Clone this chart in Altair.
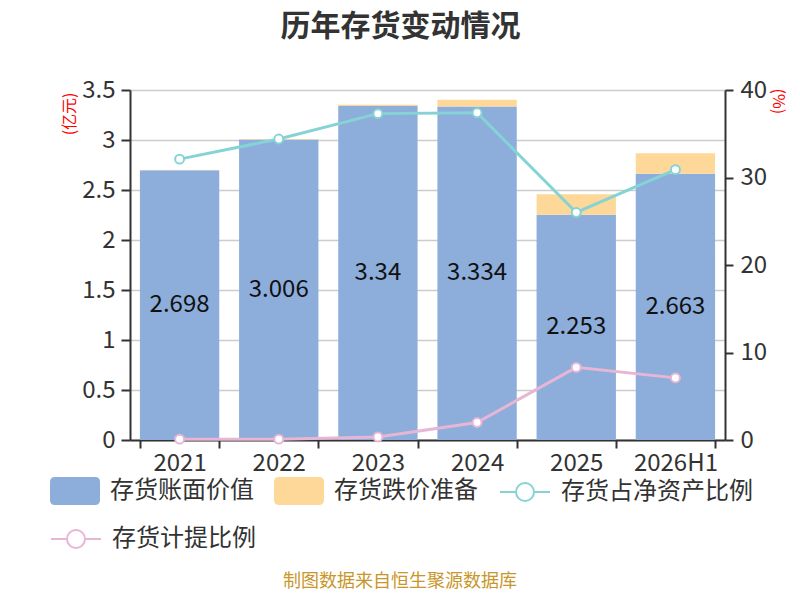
import altair as alt
import pandas as pd

# ---- data ----
years = ["2021", "2022", "2023", "2024", "2025", "2026H1"]
book_value = [2.698, 3.006, 3.34, 3.334, 2.253, 2.663]          # 存货账面价值 (亿元)
impairment = [0.003, 0.003, 0.012, 0.069, 0.204, 0.204]         # 存货跌价准备 (亿元)
inv_to_net_assets = [32.1, 34.4, 37.3, 37.4, 26.0, 30.9]        # 存货占净资产比例 (%)
provision_ratio = [0.1, 0.1, 0.35, 2.0, 8.3, 7.1]               # 存货计提比例 (%)

bar_series = ["存货账面价值", "存货跌价准备"]
line_series = ["存货占净资产比例", "存货计提比例"]
left_ticks = [0, 0.5, 1, 1.5, 2, 2.5, 3, 3.5]
right_ticks = [0, 10, 20, 30, 40]

title_text = "历年存货变动情况"
footer_text = "制图数据来自恒生聚源数据库"

# ---- styles ----
BLUE = "#8daddb"
ORANGE = "#fed898"
TEAL = "#86d3d6"
PINK = "#e7b6d5"
TXT = "#333333"
FONT = "Noto Sans CJK SC"

RECT_PATH = ("M-0.8,-0.56 L0.8,-0.56 Q1,-0.56 1,-0.36 L1,0.36 Q1,0.56 0.8,0.56 "
             "L-0.8,0.56 Q-1,0.56 -1,0.36 L-1,-0.36 Q-1,-0.56 -0.8,-0.56 Z")
LINE_PATH = ("M-1,0 L-0.36,0 M0.36,0 L1,0 M-0.36,0 A0.36,0.36 0 1,1 0.36,0 "
             "A0.36,0.36 0 1,1 -0.36,0 Z")

# ---- tables ----
bar_rows = []
for i, yr in enumerate(years):
    bar_rows.append({"year": yr, "series": bar_series[0], "value": book_value[i], "stack_order": 0})
    bar_rows.append({"year": yr, "series": bar_series[1], "value": impairment[i], "stack_order": 1})
bars_df = pd.DataFrame(bar_rows)
labels_df = pd.DataFrame({"year": years, "book": book_value,
                          "label": [str(v) for v in book_value]})
teal_df = pd.DataFrame({"year": years, "value": inv_to_net_assets, "series": line_series[0]})
pink_df = pd.DataFrame({"year": years, "value": provision_ratio, "series": line_series[1]})

# ---- encodings ----
x_enc = alt.X(
    "year:N", sort=years,
    scale=alt.Scale(domain=years, paddingInner=0.2, paddingOuter=0.1),
    axis=alt.Axis(title=None, labelAngle=0, tickBand="extent", labelFontSize=24,
                  labelColor=TXT, tickSize=8, tickColor=TXT, tickWidth=2,
                  domainColor=TXT, domainWidth=2, labelPadding=3, grid=False),
)
left_scale = alt.Scale(domain=[0, 3.5], nice=False, zero=True)
left_axis = alt.Axis(values=left_ticks, format="~g", title="(亿元)", titleColor="red",
                     titleFontSize=16, titleFontWeight="normal", titleAngle=270,
                     titleX=-61, titleY=2, titleAlign="right", titleBaseline="middle",
                     labelFontSize=24, labelColor=TXT, tickSize=9, tickColor=TXT,
                     tickWidth=2, domainColor=TXT, domainWidth=2, labelPadding=6,
                     grid=True, gridColor="#cccccc", gridWidth=1.5)
right_scale = alt.Scale(domain=[0, 40], nice=False, zero=True)
right_axis = alt.Axis(orient="right", values=right_ticks, title="(%)", titleColor="red",
                      titleFontSize=16, titleFontWeight="normal", titleAngle=90,
                      titleX=52, titleY=-2, titleAlign="left", titleBaseline="middle",
                      labelFontSize=24, labelColor=TXT, tickSize=8, tickColor=TXT,
                      tickWidth=2, domainColor=TXT, domainWidth=2, labelPadding=7,
                      grid=False)

legend_common = dict(title=None, orient="none", direction="horizontal",
                     symbolSize=2500, labelFontSize=24, labelColor=TXT,
                     labelOffset=10, padding=0, labelFont=FONT, labelLimit=0)

bars = alt.Chart(bars_df).mark_bar().encode(
    x=x_enc,
    y=alt.Y("value:Q", stack="zero", scale=left_scale, axis=left_axis),
    fill=alt.Fill("series:N", sort=bar_series,
                  scale=alt.Scale(domain=bar_series, range=[BLUE, ORANGE]),
                  legend=alt.Legend(legendX=-80, legendY=376, columns=2,
                                    columnPadding=20, symbolType=RECT_PATH,
                                    symbolStrokeWidth=0, **legend_common)),
    order=alt.Order("stack_order:Q", sort="ascending"),
)

texts = alt.Chart(labels_df).transform_calculate(mid="datum.book / 2").mark_text(
    fontSize=24, color="#111111", baseline="middle", align="center"
).encode(
    x=x_enc,
    y=alt.Y("mid:Q", scale=left_scale, axis=left_axis),
    text="label:N",
)

teal = alt.Chart(teal_df).mark_line(
    strokeWidth=3,
    point=alt.OverlayMarkDef(filled=True, fill="white", size=80, strokeWidth=2),
).encode(
    x=x_enc,
    y=alt.Y("value:Q", scale=right_scale, axis=right_axis),
    stroke=alt.Stroke("series:N",
                      scale=alt.Scale(domain=[line_series[0]], range=[TEAL]),
                      legend=alt.Legend(legendX=369, legendY=376, symbolType=LINE_PATH,
                                        symbolStrokeWidth=2, symbolFillColor="white",
                                        **legend_common)),
)

pink = alt.Chart(pink_df).mark_line(
    strokeWidth=3,
    point=alt.OverlayMarkDef(filled=True, fill="white", size=80, strokeWidth=2),
).encode(
    x=x_enc,
    y=alt.Y("value:Q", scale=right_scale, axis=right_axis),
    stroke=alt.Stroke("series:N",
                      scale=alt.Scale(domain=[line_series[1]], range=[PINK]),
                      legend=alt.Legend(legendX=-80, legendY=423, symbolType=LINE_PATH,
                                        symbolStrokeWidth=2, symbolFillColor="white",
                                        **legend_common)),
)

footer = alt.Chart(pd.DataFrame({"t": [footer_text]})).mark_text(
    fontSize=18, color="#c8962a", align="center", baseline="middle"
).encode(text="t:N", x=alt.value(270), y=alt.value(492))

left_layer = alt.layer(bars, texts)
right_layer = alt.layer(teal, pink).resolve_scale(stroke="independent").resolve_legend(stroke="independent")

chart = alt.layer(left_layer, right_layer, footer).resolve_scale(y="independent").properties(
    width=595, height=350,
    autosize=alt.AutoSizeParams(type="none"),
    padding={"left": 122, "top": 82, "right": 67, "bottom": 152},
    title=alt.TitleParams(text=title_text, fontSize=30, fontWeight="bold", color=TXT,
                          anchor="middle", frame="group", dx=-27, offset=36, font=FONT),
).configure(font=FONT).configure_view(stroke=None)

chart.save("out.html", embed_options={"renderer": "svg", "actions": False})
